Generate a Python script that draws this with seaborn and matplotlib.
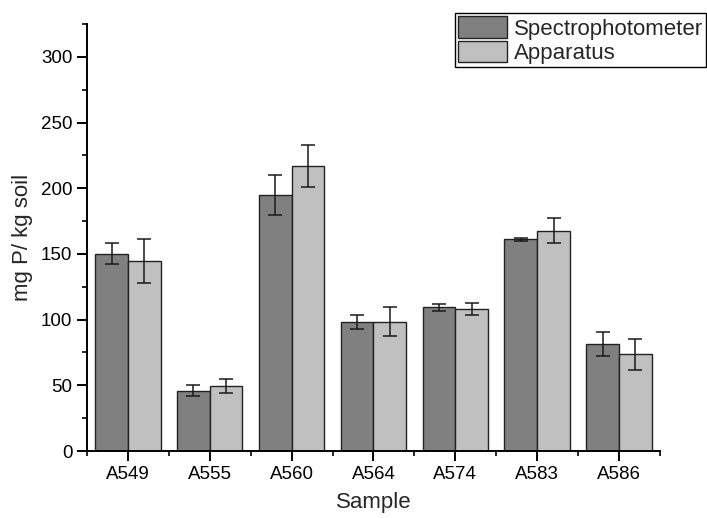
import numpy as np
import pandas as pd
import matplotlib
matplotlib.use("Agg")
import matplotlib.pyplot as plt
from matplotlib.ticker import MultipleLocator
import seaborn as sns

# Values
samples = ["A549", "A555", "A560", "A564", "A574", "A583", "A586"]
spectro_vals = [150.0, 46.0, 195.0, 98.5, 109.4, 161.2, 81.5]
spectro_err = [8.0, 4.0, 15.0, 5.4, 2.8, 1.3, 9.0]
apparatus_vals = [144.5, 49.5, 216.8, 98.5, 108.0, 167.8, 73.5]
apparatus_err = [17.0, 5.6, 16.0, 10.8, 4.3, 9.6, 11.5]
methods = ["Spectrophotometer", "Apparatus"]

df = pd.DataFrame({
    "Sample": samples * 2,
    "Method": [methods[0]] * len(samples) + [methods[1]] * len(samples),
    "value": spectro_vals + apparatus_vals,
})

sns.set_style("ticks")
plt.rcParams["font.family"] = ["Liberation Sans", "DejaVu Sans"]

fig, ax = plt.subplots(figsize=(7.07, 5.18), dpi=100)
fig.subplots_adjust(left=0.123, right=0.9335, bottom=0.1293, top=0.9537)

sns.barplot(
    data=df, x="Sample", y="value", hue="Method", hue_order=methods,
    palette=["#808080", "#c0c0c0"], edgecolor="#222222", linewidth=1.0,
    width=0.8, errorbar=None, ax=ax,
)

# error bars centred on the drawn bars
for container, errs in zip(ax.containers, [spectro_err, apparatus_err]):
    xs = [p.get_x() + p.get_width() / 2 for p in container.patches]
    hs = [p.get_height() for p in container.patches]
    ax.errorbar(xs, hs, yerr=errs, fmt="none", ecolor="#1a1a1a",
                elinewidth=1.1, capsize=5, capthick=1.1, zorder=5)

ax.set_xlim(-0.5, len(samples) - 0.5)
ax.set_ylim(0, 325)
ax.yaxis.set_major_locator(MultipleLocator(50))
ax.yaxis.set_minor_locator(MultipleLocator(25))
ax.set_xticks(np.arange(-0.5, len(samples), 1), minor=True)

sns.despine(ax=ax)
for s in ["left", "bottom"]:
    ax.spines[s].set_linewidth(1.4)
    ax.spines[s].set_color("black")
ax.tick_params(axis="both", which="major", length=7, width=1.4,
               labelsize=13.5, colors="black", direction="out")
ax.tick_params(axis="both", which="minor", length=3.5, width=1.2,
               colors="black", direction="out")

ax.set_xlabel("Sample", fontsize=16, labelpad=7)
ax.set_ylabel("mg P/ kg soil", fontsize=16, labelpad=6)

handles, labels = ax.get_legend_handles_labels()
ax.legend(
    handles, labels, loc="upper left",
    bbox_to_anchor=(455 / 707, 1 - 13 / 518), bbox_transform=fig.transFigure,
    fontsize=16, frameon=True, fancybox=False, edgecolor="black",
    framealpha=1, borderpad=0.15, labelspacing=0.05, handlelength=2.2,
    handleheight=1.1, handletextpad=0.3, borderaxespad=0,
).get_frame().set_linewidth(1.0)

fig.savefig("out.png", dpi=100)
